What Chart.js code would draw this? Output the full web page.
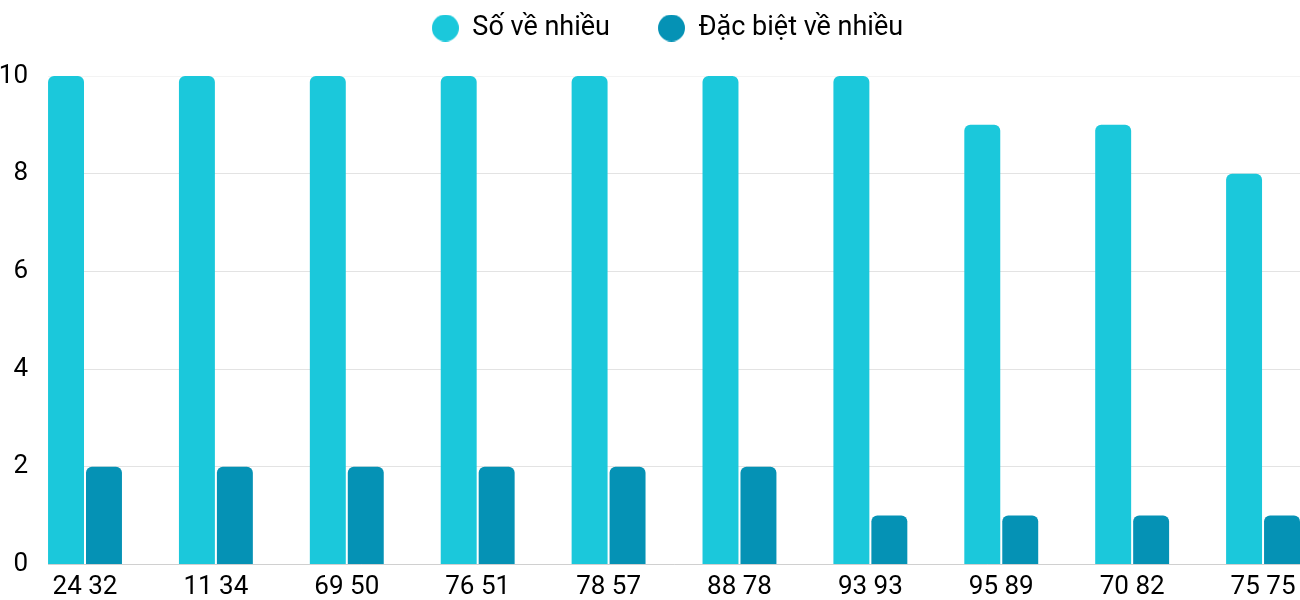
<!DOCTYPE html>
<html>
<head>
<meta charset="utf-8">
<script src="https://cdn.jsdelivr.net/npm/chart.js@4"></script>
<style>
  html, body { margin: 0; padding: 0; background: #fff; }
  #wrap { width: 1300px; height: 600px; }
</style>
</head>
<body>
<div id="wrap"><canvas id="chart"></canvas></div>
<script>
// Dữ liệu biểu đồ
const labels = ['24 32', '11 34', '69 50', '76 51', '78 57', '88 78', '93 93', '95 89', '70 82', '75 75'];
const soVeNhieu = [10, 10, 10, 10, 10, 10, 10, 9, 9, 8];
const dacBietVeNhieu = [2, 2, 2, 2, 2, 2, 1, 1, 1, 1];
const yTicks = [0, 2, 4, 6, 8, 10];

const mauSo = '#1bc8db';
const mauDacBiet = '#0592b5';

// chấm tròn cho chú thích
function taoCham(color) {
    const c = document.createElement('canvas');
    c.width = 27; c.height = 27;
    const g = c.getContext('2d');
    g.fillStyle = color;
    g.beginPath();
    g.arc(13.5, 13.5, 13.5, 0, Math.PI * 2);
    g.fill();
    return c;
}

document.addEventListener('DOMContentLoaded', function() {
    Chart.defaults.font.family = 'Roboto';
    Chart.defaults.color = '#000';

    const chamSo = taoCham(mauSo);
    const chamDacBiet = taoCham(mauDacBiet);

    // khoảng cách giữa chú thích và vùng vẽ, dịch chú thích sang phải một chút
    const legendLayout = {
        id: 'legendLayout',
        beforeInit(chart) {
            const fit = chart.legend.fit;
            chart.legend.fit = function() {
                fit.call(chart.legend);
                this.height = 109.5;
            };
        },
        afterLayout(chart) {
            chart.legend.left += 17.5;
            chart.legend.right += 17.5;
        }
    };

    const ctx = document.getElementById('chart').getContext('2d');
    new Chart(ctx, {
        type: 'bar',
        data: {
            labels: labels,
            datasets: [{
                label: 'Số về nhiều',
                data: soVeNhieu,
                backgroundColor: mauSo,
                borderRadius: { topLeft: 6, topRight: 6 },
                borderSkipped: 'bottom',
                barPercentage: 0.947,
                categoryPercentage: 0.58
            }, {
                label: 'Đặc biệt về nhiều',
                data: dacBietVeNhieu,
                backgroundColor: mauDacBiet,
                borderRadius: { topLeft: 6, topRight: 6 },
                borderSkipped: 'bottom',
                barPercentage: 0.947,
                categoryPercentage: 0.58
            }]
        },
        options: {
            responsive: true,
            maintainAspectRatio: false,
            animation: false,
            layout: { padding: { left: 0, right: 0, top: -33.5, bottom: -11.2 } },
            plugins: {
                legend: {
                    position: 'top',
                    labels: {
                        usePointStyle: true,
                        boxWidth: 27,
                        boxHeight: 27,
                        padding: 48,
                        font: { size: 27 },
                        generateLabels: function(chart) {
                            const items = Chart.defaults.plugins.legend.labels.generateLabels(chart);
                            items[0].pointStyle = chamSo;
                            items[1].pointStyle = chamDacBiet;
                            return items;
                        }
                    }
                },
                tooltip: { enabled: false }
            },
            scales: {
                x: {
                    grid: { display: false, drawTicks: false, tickLength: 0 },
                    border: { color: '#d0d0d0' },
                    ticks: { font: { size: 26 }, padding: 7, maxRotation: 0 },
                    // cột sát mép trái/phải của vùng vẽ
                    afterBuildTicks: function(scale) {
                        scale._startValue = -0.2827;
                        scale._valueRange = 9.565;
                    },
                    afterFit: function(scale) {
                        scale.paddingLeft = 0;
                        scale.paddingRight = 0;
                    }
                },
                y: {
                    min: 0,
                    max: 10,
                    afterBuildTicks: function(scale) {
                        scale.ticks = yTicks.map(v => ({ value: v }));
                    },
                    afterFit: function(scale) {
                        scale.width = 48;
                    },
                    grid: {
                        color: function(c) {
                            return c.tick && c.tick.value === 10 ? '#f3f3f3' : '#e3e3e3';
                        },
                        drawTicks: false
                    },
                    border: { display: false },
                    ticks: { font: { size: 26 }, padding: 20 }
                }
            }
        },
        plugins: [legendLayout]
    });
});
</script>
</body>
</html>
